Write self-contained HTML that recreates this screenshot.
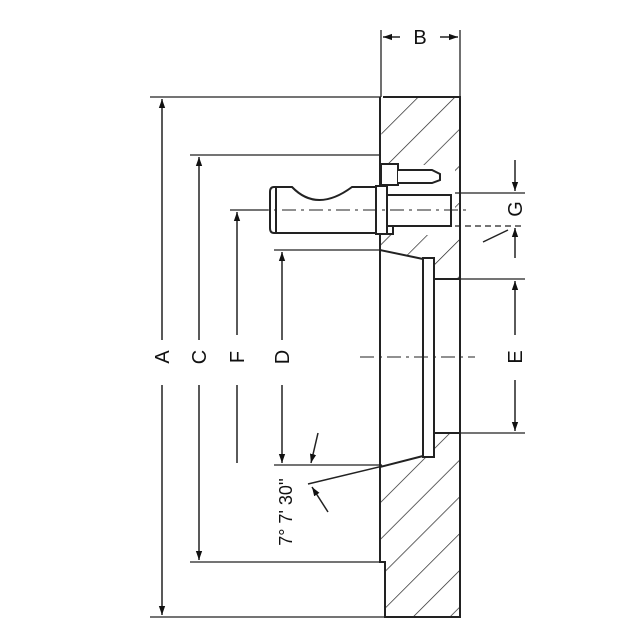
<!DOCTYPE html>
<html><head><style>html,body{margin:0;padding:0;background:#fff}svg{display:block}</style></head>
<body>
<svg width="643" height="643" viewBox="0 0 643 643" xmlns="http://www.w3.org/2000/svg" font-family="Liberation Sans, sans-serif">
<defs>
<pattern id="h" patternUnits="userSpaceOnUse" width="26" height="26" patternTransform="rotate(45)">
<line x1="0" y1="0" x2="0" y2="26" stroke="#222" stroke-width="1.4"/>
</pattern>
<marker id="ar" viewBox="0 0 10 10" refX="10" refY="5" markerWidth="9" markerHeight="9" orient="auto-start-reverse" markerUnits="userSpaceOnUse">
<path d="M0,1.5 L10,5 L0,8.5z" fill="#111"/></marker>
</defs>
<g stroke="#222" fill="none" stroke-width="2">
<path d="M383,97 L460,97 L460,279 L434,279 L434,258 L423,258 L380,250 L380,235 L455,235 L455,165 L380,165 Z" fill="url(#h)" stroke="none"/>
<path d="M380,467 L423,455 L434,455 L434,433 L460,433 L460,617 L385,617 L385,562 L380,562 Z" fill="url(#h)" stroke="none"/>
<path d="M383,97 L460,97 L460,617 L385,617 L385,562 L380,562 L380,97"/>
<path d="M380,250 L423,259 M380,467 L423,456"/>
<rect x="423" y="258" width="11" height="199" fill="#fff"/>
<path d="M434,279 L460,279 M434,433 L460,433"/>
<path d="M274,187 L292,187 Q317,213 352,187 L378,187 L378,233 L274,233 Q270,233 270,228 L270,192 Q270,187 274,187 Z" fill="#fff"/>
<line x1="276" y1="188" x2="276" y2="232"/>
<rect x="376" y="186" width="11" height="48" fill="#fff"/>
<rect x="387" y="195" width="64" height="31" fill="#fff"/>
<rect x="381" y="164" width="17" height="21" fill="#fff"/>
<path d="M398,170 L432,170 L440,174 L440,180 L432,183 L398,183" fill="#fff"/>
<path d="M380,234 L393,234 L393,226" />
<g stroke-width="1" stroke-dasharray="14,5,3,5">
<line x1="255" y1="210" x2="470" y2="210"/>
<line x1="360" y1="357" x2="475" y2="357"/>
</g>
<g stroke-width="1.3">
<line x1="150" y1="97" x2="381" y2="97"/>
<line x1="150" y1="617" x2="385" y2="617"/>
<line x1="190" y1="155" x2="380" y2="155"/>
<line x1="190" y1="562" x2="380" y2="562"/>
<line x1="230" y1="210" x2="268" y2="210"/>
<line x1="274" y1="250" x2="380" y2="250"/>
<line x1="274" y1="465" x2="382" y2="465"/>
<line x1="460" y1="279" x2="525" y2="279"/>
<line x1="460" y1="433" x2="525" y2="433"/>
<line x1="455" y1="193" x2="525" y2="193"/>
<line x1="455" y1="226" x2="525" y2="226" stroke-dasharray="6,4"/>
<line x1="381" y1="30" x2="381" y2="97"/>
<line x1="460" y1="30" x2="460" y2="97"/>
</g>
<g stroke-width="1.5">
<line x1="162" y1="340" x2="162" y2="99" marker-end="url(#ar)"/>
<line x1="162" y1="385" x2="162" y2="615" marker-end="url(#ar)"/>
<line x1="199" y1="340" x2="199" y2="157" marker-end="url(#ar)"/>
<line x1="199" y1="385" x2="199" y2="560" marker-end="url(#ar)"/>
<line x1="237" y1="335" x2="237" y2="212" marker-end="url(#ar)"/>
<line x1="237" y1="385" x2="237" y2="463"/>
<line x1="282" y1="340" x2="282" y2="252" marker-end="url(#ar)"/>
<line x1="282" y1="385" x2="282" y2="463" marker-end="url(#ar)"/>
<line x1="515" y1="335" x2="515" y2="281" marker-end="url(#ar)"/>
<line x1="515" y1="380" x2="515" y2="431" marker-end="url(#ar)"/>
<line x1="515" y1="160" x2="515" y2="191" marker-end="url(#ar)"/>
<line x1="515" y1="258" x2="515" y2="228" marker-end="url(#ar)"/>
<line x1="483" y1="242" x2="508" y2="230"/>
<line x1="400" y1="37" x2="383" y2="37" marker-end="url(#ar)"/>
<line x1="440" y1="37" x2="458" y2="37" marker-end="url(#ar)"/>
<line x1="318" y1="433" x2="311" y2="463" marker-end="url(#ar)"/>
<line x1="328" y1="512" x2="312" y2="487" marker-end="url(#ar)"/>
<line x1="308" y1="484" x2="383" y2="466"/>
</g>
</g>
<g fill="#111" font-size="20" text-anchor="middle">
<text x="420" y="44">B</text>
<text transform="translate(169,357) rotate(-90)">A</text>
<text transform="translate(206,357) rotate(-90)">C</text>
<text transform="translate(244,357) rotate(-90)">F</text>
<text transform="translate(289,357) rotate(-90)">D</text>
<text transform="translate(522,357) rotate(-90)">E</text>
<text transform="translate(522,209) rotate(-90)">G</text>
<text transform="translate(292,512) rotate(-90)" font-size="18">7° 7' 30''</text>
</g>
</svg>
</body></html>
